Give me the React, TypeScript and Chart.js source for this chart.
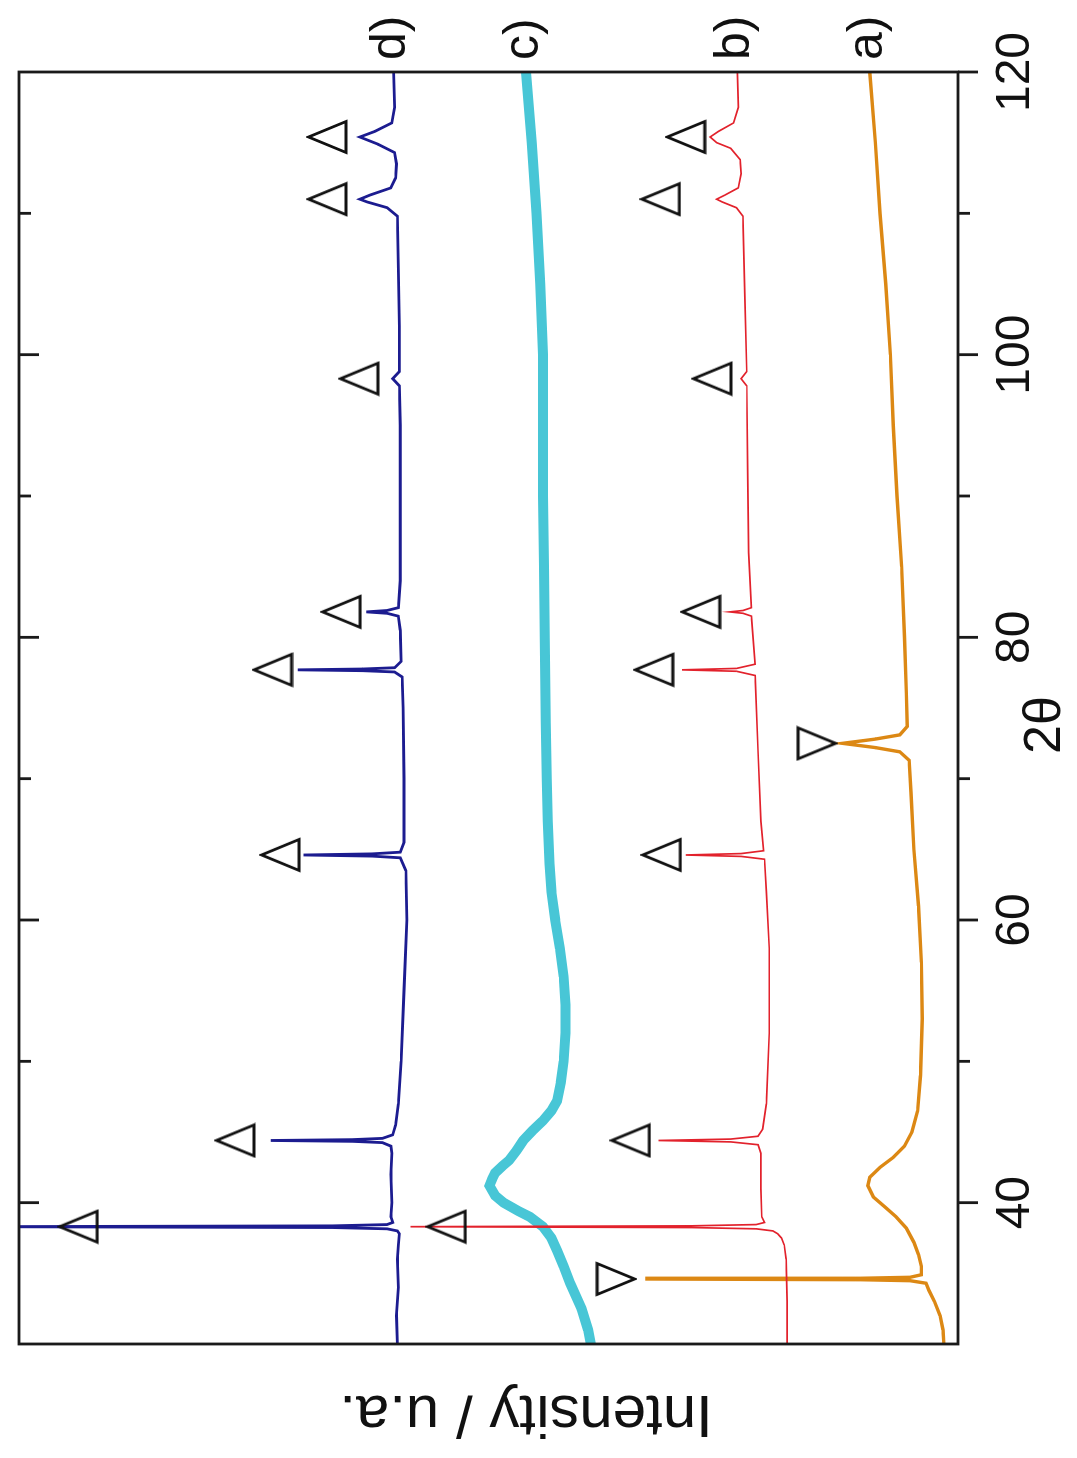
import React, { useEffect, useRef } from "react";
import { Chart, registerables } from "chart.js";

Chart.register(...registerables);

// ---- data (2θ in degrees, intensity in arbitrary units 0-100) ----
const aTheta = [30, 31, 32, 33, 33.8, 34.3, 34.48, 34.55, 34.6, 34.65, 34.72, 34.9, 35.5, 36.3, 37.2, 38.2, 39.0, 39.7, 40.4, 41.2, 41.8, 42.5, 43.2, 44.0, 45.0, 46.5, 49, 53, 57, 61, 65, 69, 71.3, 71.9, 72.2, 72.5, 72.8, 73.1, 73.7, 76, 80, 85, 90, 95, 100, 105, 110, 115, 120];
const aInt = [1.5, 1.6, 1.9, 2.5, 3.1, 3.4, 5.1, 10.4, 33.3, 10.4, 5.1, 3.9, 3.9, 4.2, 4.7, 5.5, 6.6, 7.8, 9.0, 9.6, 9.4, 8.3, 6.9, 5.7, 4.9, 4.3, 4.0, 3.8, 3.9, 4.2, 4.7, 5.0, 5.2, 6.2, 8.8, 12.3, 8.8, 6.2, 5.4, 5.5, 5.7, 6.0, 6.5, 6.9, 7.2, 7.7, 8.3, 8.8, 9.4];

const bTheta = [30, 33, 36, 37.0, 37.5, 37.8, 38.0, 38.15, 38.24, 38.3, 38.36, 38.45, 38.6, 39.0, 41, 43.5, 44.1, 44.3, 44.4, 44.5, 44.7, 45.2, 47, 52, 58, 62, 64.3, 64.5, 64.6, 64.7, 64.9, 67, 72, 77.3, 77.6, 77.7, 77.8, 78.1, 81.5, 81.7, 81.8, 81.9, 82.1, 86, 92, 97.8, 98.3, 98.8, 104, 109.8, 110.4, 110.8, 111.0, 111.3, 111.8, 112.8, 113.8, 114.6, 115.0, 115.4, 115.8, 116.4, 117.5, 120];
const bInt = [18.2, 18.2, 18.3, 18.5, 18.8, 19.2, 19.7, 21.5, 28.4, 58.3, 28.4, 21.5, 20.6, 20.9, 21.0, 21.0, 21.3, 24.2, 31.9, 24.2, 21.3, 20.8, 20.4, 20.1, 20.1, 20.4, 20.6, 23.1, 29.0, 23.1, 20.7, 21.0, 21.3, 21.6, 23.6, 29.4, 23.6, 21.6, 22.0, 22.9, 24.3, 22.9, 22.0, 22.3, 22.4, 22.5, 23.1, 22.5, 22.7, 22.9, 23.6, 25.1, 25.7, 24.8, 23.4, 23.1, 23.2, 24.2, 25.7, 26.4, 25.5, 23.9, 23.4, 23.5];

const cTheta = [30, 31, 32.5, 34.3, 35.5, 36.6, 37.5, 38.3, 39.0, 39.4, 40.0, 40.5, 41.2, 41.7, 42.1, 42.6, 43.0, 43.7, 44.4, 45.1, 45.8, 46.5, 47.2, 48.5, 50, 52, 54, 56, 58, 60, 62, 64, 67, 70, 74, 80, 85, 90, 95, 100, 105, 110, 115, 120];
const cInt = [39.1, 39.4, 40.1, 41.3, 42.0, 42.7, 43.3, 44.2, 45.6, 46.8, 48.4, 49.3, 49.9, 49.6, 49.3, 48.5, 47.8, 47.0, 46.3, 45.3, 44.2, 43.3, 42.7, 42.3, 42.0, 41.8, 41.8, 42.0, 42.4, 42.9, 43.3, 43.5, 43.7, 43.8, 43.9, 44.0, 44.1, 44.2, 44.2, 44.2, 44.5, 44.9, 45.4, 46.0];

const dTheta = [30, 32, 34, 36, 37, 37.8, 38.0, 38.15, 38.24, 38.3, 38.36, 38.45, 38.6, 39.0, 40, 42, 43.5, 44.0, 44.25, 44.34, 44.4, 44.46, 44.55, 44.8, 45.5, 47, 50, 55, 60, 63.5, 64.4, 64.52, 64.6, 64.68, 64.8, 65.5, 70, 75, 77.2, 77.55, 77.64, 77.7, 77.76, 77.85, 78.3, 80.5, 81.5, 81.7, 81.8, 81.9, 82.1, 84, 90, 95, 97.8, 98.3, 98.8, 102, 106, 109.8, 110.4, 110.8, 111.0, 111.3, 111.8, 112.5, 113.5, 114.3, 114.9, 115.4, 115.8, 116.4, 117.5, 120];
const dInt = [59.7, 59.8, 59.6, 59.7, 59.6, 59.5, 59.7, 60.8, 66.6, 105, 66.6, 60.8, 60.2, 60.4, 60.3, 60.4, 60.3, 60.4, 61.3, 64.5, 73.2, 64.5, 61.3, 60.2, 59.9, 59.6, 59.3, 59.0, 58.7, 58.8, 59.4, 62.4, 69.7, 62.4, 59.4, 59.0, 59.0, 59.1, 59.2, 60.0, 63.4, 70.3, 63.4, 60.0, 59.3, 59.4, 59.6, 60.8, 63.0, 60.8, 59.6, 59.4, 59.4, 59.4, 59.5, 60.2, 59.5, 59.5, 59.6, 59.7, 60.8, 62.9, 63.7, 62.6, 60.4, 59.9, 59.8, 60.0, 61.8, 63.7, 62.1, 60.3, 60.0, 60.1];

// peak markers (open triangles)
const upMarkTheta = [38.3, 44.4, 64.6, 77.7, 81.8, 98.3, 111.0, 115.4];
const dMarkInt = [93.7, 77.0, 72.2, 73.0, 65.7, 63.8, 67.2, 67.2];
const bMarkInt = [54.5, 34.9, 31.6, 32.4, 27.4, 26.2, 31.7, 29.0];
const aMarkTheta = [34.6, 72.5];
const aMarkInt = [36.4, 15.0];

const majorTicks = [40, 60, 80, 100, 120];
const minorTicks = [50, 70, 90, 110];
const seriesNames = ["a)", "b)", "c)", "d)"];
const xTitle = "2θ";
const yTitle = "Intensity / u.a.";

const FONT = "'Liberation Sans', Arial, Helvetica, sans-serif";

function zip(t: number[], v: number[]) {
  return t.map((x, i) => ({ x, y: v[i] }));
}

function makeTriangle(): HTMLCanvasElement {
  const c = document.createElement("canvas");
  c.width = 36;
  c.height = 42;
  const g = c.getContext("2d")!;
  g.strokeStyle = "#111";
  g.lineWidth = 2.8;
  g.lineJoin = "miter";
  g.beginPath();
  g.moveTo(18, 2.5);
  g.lineTo(33.5, 40);
  g.lineTo(2.5, 40);
  g.closePath();
  g.stroke();
  return c;
}

const decorPlugin = {
  id: "decor",
  afterDatasetsDraw(chart: any) {
    const { ctx, chartArea: a, scales } = chart;
    const x = scales.x;
    const y = scales.y;
    ctx.save();
    ctx.strokeStyle = "#1a1a1a";
    ctx.lineWidth = 2.8;
    ctx.strokeRect(a.left, a.top, a.right - a.left, a.bottom - a.top);
    ctx.beginPath();
    for (const v of majorTicks) {
      const px = x.getPixelForValue(v);
      ctx.moveTo(px, a.bottom);
      ctx.lineTo(px, a.bottom + 20);
      if (v < 120) {
        ctx.moveTo(px, a.top);
        ctx.lineTo(px, a.top + 20);
      }
    }
    for (const v of minorTicks) {
      const px = x.getPixelForValue(v);
      ctx.moveTo(px, a.bottom);
      ctx.lineTo(px, a.bottom + 12);
      ctx.moveTo(px, a.top);
      ctx.lineTo(px, a.top + 12);
    }
    ctx.stroke();

    ctx.fillStyle = "#111";
    // series labels at the right end of each trace
    ctx.font = `50px ${FONT}`;
    const ends = [aInt, bInt, cInt, dInt];
    ctx.textAlign = "left";
    ctx.textBaseline = "middle";
    ends.forEach((arr, i) => {
      const py = y.getPixelForValue(arr[arr.length - 1]);
      ctx.fillText(seriesNames[i], a.right + 12, py - 2);
    });
    // x title
    ctx.font = `52px ${FONT}`;
    ctx.textAlign = "center";
    ctx.textBaseline = "middle";
    ctx.fillText(xTitle, x.getPixelForValue(73.8), a.bottom + 88);
    // y title (rotated)
    ctx.font = `60px ${FONT}`;
    ctx.save();
    ctx.translate(a.left - 69, y.getPixelForValue(46.0));
    ctx.rotate(-Math.PI / 2);
    ctx.fillText(yTitle, 0, 0);
    ctx.restore();
    ctx.restore();
  },
};

export default function App() {
  const ref = useRef<HTMLCanvasElement>(null);

  useEffect(() => {
    const tri = makeTriangle();
    const line = (data: any, color: string, width: number) => ({
      type: "line" as const,
      data,
      borderColor: color,
      borderWidth: width,
      pointRadius: 0,
      tension: 0,
      fill: false,
    });
    const marks = (data: any, rot: number) => ({
      type: "scatter" as const,
      data,
      pointStyle: tri,
      pointRotation: rot,
      pointRadius: 18,
      borderColor: "#111",
      backgroundColor: "rgba(0,0,0,0)",
    });
    const chart = new Chart(ref.current!, {
      type: "line",
      data: {
        datasets: [
          marks(zip(upMarkTheta, dMarkInt), 0),
          marks(zip(upMarkTheta, bMarkInt), 0),
          marks(zip(aMarkTheta, aMarkInt), 180),
          line(zip(dTheta, dInt), "#1c1c90", 2.8),
          line(zip(bTheta, bInt), "#e2222c", 1.7),
          line(zip(cTheta, cInt), "#48c6d6", 10),
          line(zip(aTheta, aInt), "#dc8814", 3.4),
        ] as any,
      },
      options: {
        responsive: false,
        devicePixelRatio: 1,
        animation: false,
        events: [],
        layout: { padding: { left: 114, right: 72, top: 15, bottom: 0 } },
        plugins: { legend: { display: false }, tooltip: { enabled: false } },
        scales: {
          x: {
            type: "linear",
            min: 30,
            max: 120,
            afterBuildTicks: (s: any) => {
              s.ticks = majorTicks.map((v) => ({ value: v }));
            },
            afterFit: (s: any) => {
              s.height = 119;
            },
            grid: { display: false, drawTicks: false },
            border: { display: false },
            ticks: {
              padding: 29,
              color: "#111",
              maxRotation: 0,
              autoSkip: false,
              font: { family: FONT, size: 48 },
            },
          },
          y: { type: "linear", min: 0, max: 100, display: false },
        },
      },
      plugins: [decorPlugin],
    } as any);
    return () => chart.destroy();
  }, []);

  return (
    <div
      style={{
        position: "absolute",
        left: 0,
        top: 0,
        width: 1077,
        height: 1458,
        overflow: "hidden",
        background: "#fff",
      }}
    >
      <div
        style={{
          position: "absolute",
          left: 0,
          top: 0,
          width: 1458,
          height: 1077,
          transformOrigin: "0 0",
          transform: "translate(0px, 1458px) rotate(-90deg)",
        }}
      >
        <canvas ref={ref} width={1458} height={1077} style={{ display: "block", width: 1458, height: 1077 }} />
      </div>
    </div>
  );
}
